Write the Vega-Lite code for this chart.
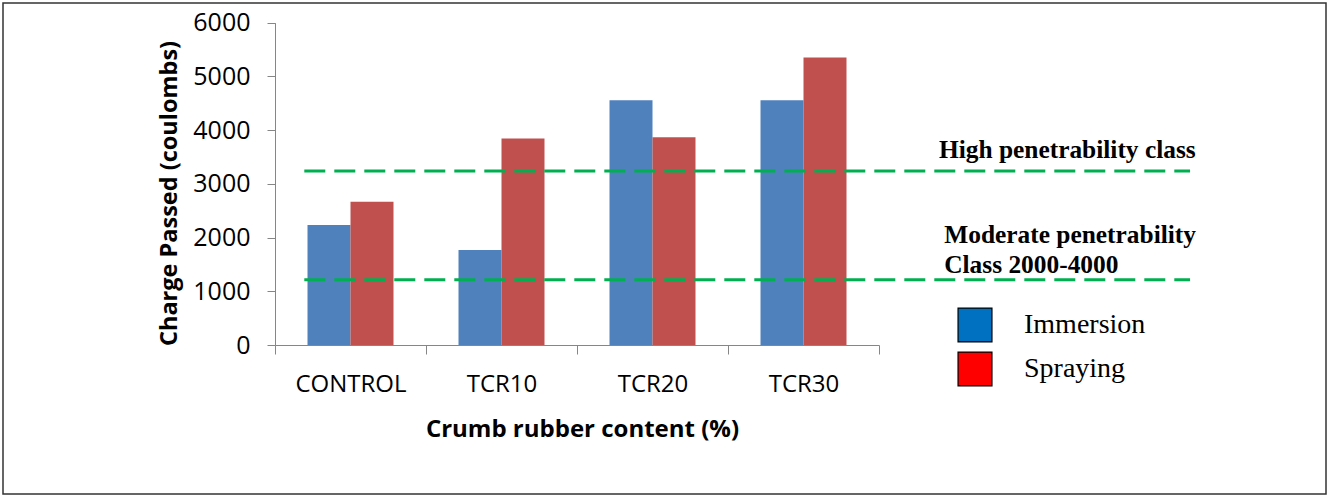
{
  "$schema": "https://vega.github.io/schema/vega-lite/v6.json",
  "width": 1323,
  "height": 491,
  "autosize": {"type": "none"},
  "padding": {"left": 3, "top": 3, "right": 2, "bottom": 1},
  "background": "white",
  "config": {
    "view": {"stroke": "#333333", "strokeWidth": 1.5},
    "font": "Open Sans"
  },
  "datasets": {
    "bars": [
      {"category": "CONTROL", "method": "Immersion", "charge": 2235},
      {"category": "CONTROL", "method": "Spraying", "charge": 2669},
      {"category": "TCR10", "method": "Immersion", "charge": 1769},
      {"category": "TCR10", "method": "Spraying", "charge": 3842},
      {"category": "TCR20", "method": "Immersion", "charge": 4557},
      {"category": "TCR20", "method": "Spraying", "charge": 3868},
      {"category": "TCR30", "method": "Immersion", "charge": 4557},
      {"category": "TCR30", "method": "Spraying", "charge": 5350}
    ],
    "thresholds": [
      {"class": "High penetrability", "charge": 3240},
      {"class": "Moderate penetrability", "charge": 1216}
    ],
    "notes": [
      {"note": "High penetrability class", "at": 4.397, "level": 3477},
      {"note": "Moderate penetrability", "at": 4.432, "level": 1894},
      {"note": "Class 2000-4000", "at": 4.432, "level": 1340}
    ]
  },
  "layer": [
    {
      "data": {"name": "bars"},
      "mark": {"type": "bar"},
      "encoding": {
        "x": {
          "field": "category",
          "type": "nominal",
          "scale": {"type": "band", "domain": ["CONTROL", "TCR10", "TCR20", "TCR30"], "range": [272, 876], "paddingInner": 0, "paddingOuter": 0},
          "axis": null
        },
        "xOffset": {
          "field": "method",
          "type": "nominal",
          "scale": {"domain": ["Immersion", "Spraying"], "paddingInner": 0, "paddingOuter": 0.756}
        },
        "y": {
          "field": "charge",
          "type": "quantitative",
          "scale": {"domain": [0, 6000], "range": [342, 19.7], "nice": false, "zero": true},
          "axis": {
            "values": [0, 1000, 2000, 3000, 4000, 5000, 6000],
            "format": "d",
            "offset": -272,
            "grid": false,
            "domainColor": "#868686",
            "tickColor": "#868686",
            "tickSize": 8,
            "labelFont": "Open Sans",
            "labelFontSize": 25,
            "labelColor": "#000000",
            "labelPadding": 17,
            "labelFlush": false,
            "title": "Charge Passed (coulombs)",
            "titleFont": "Open Sans",
            "titleFontSize": 23.5,
            "titleFontWeight": "bold",
            "titleColor": "#000000",
            "titlePadding": 11,
            "titleY": 190
          }
        },
        "color": {
          "field": "method",
          "type": "nominal",
          "scale": {"domain": ["Immersion", "Spraying"], "range": ["#4F81BD", "#C0504D"]},
          "legend": null
        }
      }
    },
    {
      "layer": [
        {
          "data": {"name": "thresholds"},
          "mark": {"type": "rule", "color": "#00B050", "strokeWidth": 3, "strokeDash": [21, 9]},
          "encoding": {
            "x": {
              "datum": 0.194,
              "type": "quantitative",
              "scale": {"domain": [0, 4], "range": [272, 876], "nice": false, "zero": false},
              "axis": {
                "orient": "bottom",
                "offset": -149,
                "values": [0, 0.5, 1, 1.5, 2, 2.5, 3, 3.5, 4],
                "grid": false,
                "domainColor": "#868686",
                "tickColor": "#868686",
                "tickSize": 9,
                "tickOpacity": {"condition": {"test": "datum.value % 1 == 0", "value": 1}, "value": 0},
                "labelExpr": "datum.value == 0.5 ? 'CONTROL' : datum.value == 1.5 ? 'TCR10' : datum.value == 2.5 ? 'TCR20' : datum.value == 3.5 ? 'TCR30' : ''",
                "labelFont": "Open Sans",
                "labelFontSize": 24,
                "labelColor": "#000000",
                "labelPadding": 18,
                "labelFlush": false,
                "labelOverlap": false,
                "title": "Crumb rubber content (%)",
                "titleFont": "Open Sans",
                "titleFontSize": 24,
                "titleFontWeight": "bold",
                "titleColor": "#000000",
                "titlePadding": 21,
                "titleX": 579
              }
            },
            "x2": {"datum": 6.06},
            "y": {"field": "charge", "type": "quantitative"}
          }
        },
        {
          "data": {"name": "notes"},
          "mark": {"type": "text", "font": "Liberation Serif", "fontWeight": "bold", "fontSize": 25.4, "align": "left", "baseline": "alphabetic", "color": "#000000"},
          "encoding": {
            "x": {"field": "at", "type": "quantitative"},
            "y": {"field": "level", "type": "quantitative"},
            "text": {"field": "note"}
          }
        }
      ]
    },
    {
      "data": {"name": "bars"},
      "transform": [{"filter": "false"}],
      "mark": {"type": "square", "stroke": "#000000", "strokeWidth": 1.2, "opacity": 1},
      "encoding": {
        "color": {
          "field": "method",
          "type": "nominal",
          "scale": {"domain": ["Immersion", "Spraying"], "range": ["#0070C0", "#FF0000"]},
          "legend": {
            "orient": "none",
            "legendX": 954,
            "legendY": 304,
            "title": null,
            "padding": 0,
            "symbolType": "square",
            "symbolSize": 1150,
            "symbolStrokeColor": "#000000",
            "symbolStrokeWidth": 1.2,
            "symbolOpacity": 1,
            "labelFont": "Liberation Serif",
            "labelFontSize": 28,
            "labelColor": "#000000",
            "labelOffset": 31,
            "rowPadding": 4
          }
        }
      }
    }
  ],
  "resolve": {
    "scale": {"x": "independent", "color": "independent"},
    "axis": {"x": "independent"}
  }
}
